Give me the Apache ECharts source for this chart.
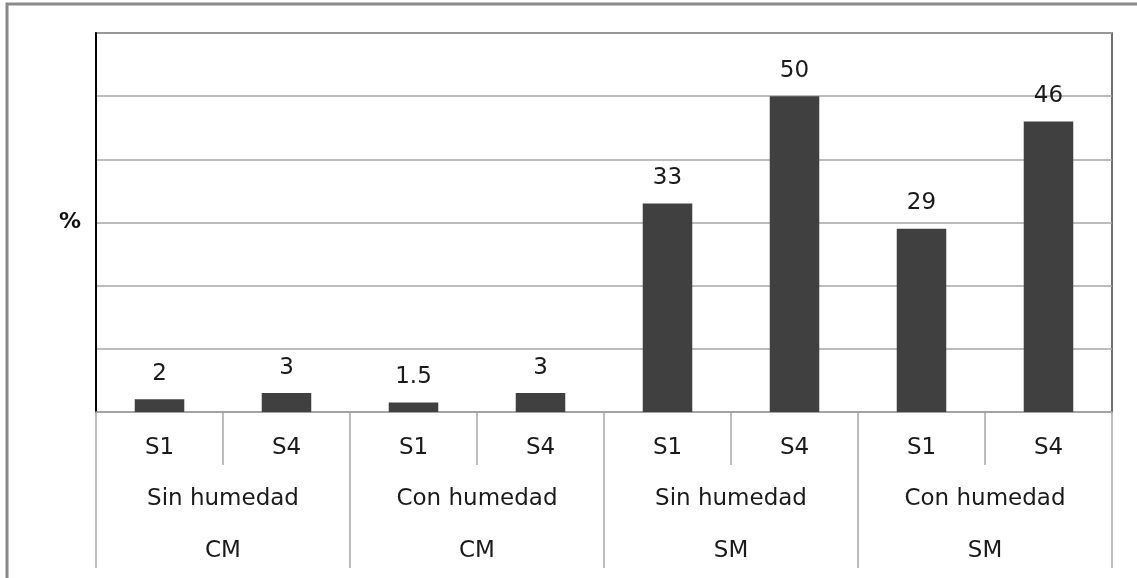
<!DOCTYPE html>
<html>
<head>
<meta charset="utf-8">
<script src="https://cdn.jsdelivr.net/npm/echarts@6/dist/echarts.min.js"></script>
<style>
html,body{margin:0;padding:0;background:#fff;}
#chart{width:1137px;height:578px;}
</style>
</head>
<body>
<div id="chart"></div>
<script>
const sampleLabels = ["S1","S4","S1","S4","S1","S4","S1","S4"];
const humidityLabels = ["Sin humedad","Con humedad","Sin humedad","Con humedad"];
const groupLabels = ["CM","CM","SM","SM"];
const values = [2, 3, 1.5, 3, 33, 50, 29, 46];
const yMin = 0, yMax = 60, yStep = 10;

const chart = echarts.init(document.getElementById('chart'));
const axisFont = {fontFamily:'DejaVu Sans', fontSize:23, color:'#1a1a1a'};
chart.setOption({
  animation:false,
  backgroundColor:'#fff',
  graphic:[{
    type:'rect', shape:{x:7,y:4,width:1300,height:800},
    style:{fill:'none', stroke:'#8a8a8a', lineWidth:3}, silent:true
  }],
  grid:{left:96,right:25,top:33,bottom:166,show:true,borderColor:'#404040',borderWidth:1.5},
  yAxis:{
    type:'value', min:yMin, max:yMax, interval:yStep,
    axisLabel:{show:false}, axisTick:{show:false},
    axisLine:{show:true, lineStyle:{color:'#000', width:2}},
    splitLine:{lineStyle:{color:'#a6a6a6', width:1.5}},
    name:'%', nameLocation:'middle', nameGap:15, nameRotate:0,
    nameTextStyle:{fontFamily:'DejaVu Sans', fontWeight:'bold', fontSize:22, color:'#111', padding:[10,0,0,0]}
  },
  xAxis:[
    {type:'category', data:sampleLabels, position:'bottom',
     axisLine:{show:true, lineStyle:{color:'#a6a6a6', width:1.5}},
     axisTick:{show:true, interval:0, length:53, lineStyle:{color:'#a6a6a6', width:1.5}},
     axisLabel:{...axisFont, margin:25, interval:0}},
    {type:'category', data:humidityLabels, position:'bottom', gridIndex:0,
     axisLine:{show:false},
     axisTick:{show:true, interval:0, length:156, lineStyle:{color:'#a6a6a6', width:1.5}},
     axisLabel:{...axisFont, margin:76, interval:0}},
    {type:'category', data:groupLabels, position:'bottom', gridIndex:0,
     axisLine:{show:false}, axisTick:{show:false},
     axisLabel:{...axisFont, margin:128, interval:0}}
  ],
  series:[{
    type:'bar', data:values, xAxisIndex:0, barWidth:'39%',
    itemStyle:{color:'#404040'},
    label:{show:true, position:'top', distance:14, fontFamily:'DejaVu Sans', fontSize:23, color:'#1a1a1a'}
  }]
});
</script>
</body>
</html>
